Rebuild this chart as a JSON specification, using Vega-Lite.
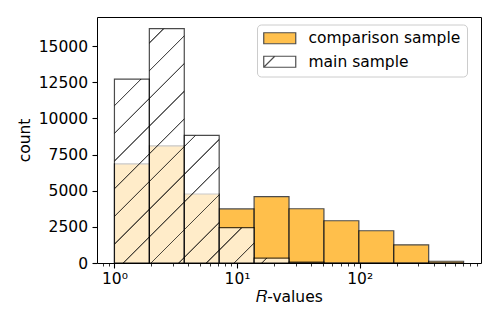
{
  "$schema": "https://vega.github.io/schema/vega-lite/v6.json",
  "autosize": {"type": "none"},
  "width": 384,
  "height": 246,
  "padding": {"left": 97, "top": 17, "right": 17, "bottom": 69},
  "background": "white",
  "config": {
    "view": {"stroke": "black", "strokeWidth": 1},
    "font": "DejaVu Sans",
    "axis": {"labelFont": "DejaVu Sans", "titleFont": "DejaVu Sans", "labelColor": "black", "titleColor": "black", "tickColor": "black", "grid": false, "domain": false, "labelFontSize": 15.5, "titleFontSize": 15.5, "titleFontWeight": "normal"},
    "legend": {"labelFont": "DejaVu Sans", "labelColor": "black"}
  },
  "datasets": {
    "bins": [
      {"bin": 1, "lo": 1.0, "hi": 1.926, "main": 12720, "comp": 6850},
      {"bin": 2, "lo": 1.926, "hi": 3.711, "main": 16200, "comp": 8100},
      {"bin": 3, "lo": 3.711, "hi": 7.148, "main": 8820, "comp": 4770},
      {"bin": 4, "lo": 7.148, "hi": 13.77, "main": 2440, "comp": 3740},
      {"bin": 5, "lo": 13.77, "hi": 26.52, "main": 340, "comp": 4590},
      {"bin": 6, "lo": 26.52, "hi": 51.09, "main": 60, "comp": 3750},
      {"bin": 7, "lo": 51.09, "hi": 98.4, "main": 0, "comp": 2920},
      {"bin": 8, "lo": 98.4, "hi": 189.6, "main": 0, "comp": 2230},
      {"bin": 9, "lo": 189.6, "hi": 365.2, "main": 0, "comp": 1260},
      {"bin": 10, "lo": 365.2, "hi": 703.4, "main": 0, "comp": 120}
    ],
    "samples": [
      {"sample": "comparison sample"},
      {"sample": "main sample"}
    ]
  },
  "layer": [
    {
      "data": {"name": "bins"},
      "mark": {"type": "rect", "fill": "#FFA500", "stroke": "black", "strokeWidth": 1.2, "opacity": 0.7},
      "encoding": {
        "x": {"field": "lo", "type": "quantitative",
          "scale": {"type": "log", "domain": [0.7208, 975.4], "nice": false, "zero": false},
          "axis": {
            "title": "𝑅-values",
            "values": [0.8, 0.9, 1, 2, 3, 4, 5, 6, 7, 8, 9, 10, 20, 30, 40, 50, 60, 70, 80, 90, 100, 200, 300, 400, 500, 600, 700, 800, 900],
            "labelExpr": "datum.value == 1 ? '10⁰' : datum.value == 10 ? '10¹' : datum.value == 100 ? '10²' : ''",
            "labelOverlap": false,
            "labelFlush": false,
            "labelPadding": 3,
            "titlePadding": 3,
            "tickSize": {"condition": {"test": "datum.value == 1 || datum.value == 10 || datum.value == 100", "value": 5}, "value": 3},
            "tickWidth": {"condition": {"test": "datum.value == 1 || datum.value == 10 || datum.value == 100", "value": 1.1}, "value": 0.8}
          }
        },
        "x2": {"field": "hi"},
        "y": {"field": "comp", "type": "quantitative",
          "scale": {"domain": [0, 17010], "nice": false},
          "axis": {"title": "count", "values": [0, 2500, 5000, 7500, 10000, 12500, 15000], "format": "d", "tickSize": 5, "tickWidth": 1.1, "labelPadding": 4.5, "titlePadding": 6}
        },
        "y2": {"datum": 0}
      }
    },
    {
      "data": {"name": "bins"},
      "mark": {"type": "rect", "fill": "white", "stroke": "black", "strokeWidth": 1.2, "opacity": 0.7},
      "encoding": {
        "x": {"field": "lo", "type": "quantitative"},
        "x2": {"field": "hi"},
        "y": {"field": "main", "type": "quantitative"},
        "y2": {"datum": 0}
      }
    },
    {
      "data": {"name": "bins"},
      "transform": [{"filter": "datum.bin == 1"}],
      "mark": {"type": "rect", "strokeWidth": 0, "fill": {"gradient": "linear", "x1": 0, "y1": 0, "x2": 0.2179, "y2": 1.1484, "stops": [
        {"offset": 0, "color": "rgba(0,0,0,0)"},
        {"offset": 0.1170, "color": "rgba(0,0,0,0)"}, {"offset": 0.1198, "color": "rgba(0,0,0,0.7)"}, {"offset": 0.1234, "color": "rgba(0,0,0,0.7)"}, {"offset": 0.1262, "color": "rgba(0,0,0,0)"},
        {"offset": 0.2435, "color": "rgba(0,0,0,0)"}, {"offset": 0.2463, "color": "rgba(0,0,0,0.7)"}, {"offset": 0.2499, "color": "rgba(0,0,0,0.7)"}, {"offset": 0.2527, "color": "rgba(0,0,0,0)"},
        {"offset": 0.3701, "color": "rgba(0,0,0,0)"}, {"offset": 0.3729, "color": "rgba(0,0,0,0.7)"}, {"offset": 0.3765, "color": "rgba(0,0,0,0.7)"}, {"offset": 0.3793, "color": "rgba(0,0,0,0)"},
        {"offset": 0.4967, "color": "rgba(0,0,0,0)"}, {"offset": 0.4995, "color": "rgba(0,0,0,0.7)"}, {"offset": 0.5031, "color": "rgba(0,0,0,0.7)"}, {"offset": 0.5059, "color": "rgba(0,0,0,0)"},
        {"offset": 0.6232, "color": "rgba(0,0,0,0)"}, {"offset": 0.6260, "color": "rgba(0,0,0,0.7)"}, {"offset": 0.6296, "color": "rgba(0,0,0,0.7)"}, {"offset": 0.6324, "color": "rgba(0,0,0,0)"},
        {"offset": 0.7498, "color": "rgba(0,0,0,0)"}, {"offset": 0.7526, "color": "rgba(0,0,0,0.7)"}, {"offset": 0.7562, "color": "rgba(0,0,0,0.7)"}, {"offset": 0.7590, "color": "rgba(0,0,0,0)"},
        {"offset": 0.8763, "color": "rgba(0,0,0,0)"}, {"offset": 0.8791, "color": "rgba(0,0,0,0.7)"}, {"offset": 0.8827, "color": "rgba(0,0,0,0.7)"}, {"offset": 0.8855, "color": "rgba(0,0,0,0)"},
        {"offset": 1, "color": "rgba(0,0,0,0)"}
      ]}},
      "encoding": {
        "x": {"field": "lo", "type": "quantitative"},
        "x2": {"field": "hi"},
        "y": {"field": "main", "type": "quantitative"},
        "y2": {"datum": 0}
      }
    },
    {
      "data": {"name": "bins"},
      "transform": [{"filter": "datum.bin == 2"}],
      "mark": {"type": "rect", "strokeWidth": 0, "fill": {"gradient": "linear", "x1": 0, "y1": 0, "x2": 0.1675, "y2": 1.1241, "stops": [
        {"offset": 0, "color": "rgba(0,0,0,0)"},
        {"offset": 0.0495, "color": "rgba(0,0,0,0)"}, {"offset": 0.0517, "color": "rgba(0,0,0,0.7)"}, {"offset": 0.0547, "color": "rgba(0,0,0,0.7)"}, {"offset": 0.0569, "color": "rgba(0,0,0,0)"},
        {"offset": 0.1524, "color": "rgba(0,0,0,0)"}, {"offset": 0.1546, "color": "rgba(0,0,0,0.7)"}, {"offset": 0.1576, "color": "rgba(0,0,0,0.7)"}, {"offset": 0.1598, "color": "rgba(0,0,0,0)"},
        {"offset": 0.2553, "color": "rgba(0,0,0,0)"}, {"offset": 0.2575, "color": "rgba(0,0,0,0.7)"}, {"offset": 0.2605, "color": "rgba(0,0,0,0.7)"}, {"offset": 0.2627, "color": "rgba(0,0,0,0)"},
        {"offset": 0.3582, "color": "rgba(0,0,0,0)"}, {"offset": 0.3604, "color": "rgba(0,0,0,0.7)"}, {"offset": 0.3634, "color": "rgba(0,0,0,0.7)"}, {"offset": 0.3656, "color": "rgba(0,0,0,0)"},
        {"offset": 0.4611, "color": "rgba(0,0,0,0)"}, {"offset": 0.4633, "color": "rgba(0,0,0,0.7)"}, {"offset": 0.4663, "color": "rgba(0,0,0,0.7)"}, {"offset": 0.4685, "color": "rgba(0,0,0,0)"},
        {"offset": 0.5640, "color": "rgba(0,0,0,0)"}, {"offset": 0.5662, "color": "rgba(0,0,0,0.7)"}, {"offset": 0.5692, "color": "rgba(0,0,0,0.7)"}, {"offset": 0.5714, "color": "rgba(0,0,0,0)"},
        {"offset": 0.6669, "color": "rgba(0,0,0,0)"}, {"offset": 0.6691, "color": "rgba(0,0,0,0.7)"}, {"offset": 0.6721, "color": "rgba(0,0,0,0.7)"}, {"offset": 0.6743, "color": "rgba(0,0,0,0)"},
        {"offset": 0.7698, "color": "rgba(0,0,0,0)"}, {"offset": 0.7720, "color": "rgba(0,0,0,0.7)"}, {"offset": 0.7750, "color": "rgba(0,0,0,0.7)"}, {"offset": 0.7772, "color": "rgba(0,0,0,0)"},
        {"offset": 0.8727, "color": "rgba(0,0,0,0)"}, {"offset": 0.8749, "color": "rgba(0,0,0,0.7)"}, {"offset": 0.8779, "color": "rgba(0,0,0,0.7)"}, {"offset": 0.8801, "color": "rgba(0,0,0,0)"},
        {"offset": 0.9756, "color": "rgba(0,0,0,0)"}, {"offset": 0.9778, "color": "rgba(0,0,0,0.7)"}, {"offset": 0.9808, "color": "rgba(0,0,0,0.7)"}, {"offset": 0.9830, "color": "rgba(0,0,0,0)"},
        {"offset": 1, "color": "rgba(0,0,0,0)"}
      ]}},
      "encoding": {
        "x": {"field": "lo", "type": "quantitative"},
        "x2": {"field": "hi"},
        "y": {"field": "main", "type": "quantitative"},
        "y2": {"datum": 0}
      }
    },
    {
      "data": {"name": "bins"},
      "transform": [{"filter": "datum.bin == 3"}],
      "mark": {"type": "rect", "strokeWidth": 0, "fill": {"gradient": "linear", "x1": 0, "y1": 0, "x2": 0.3243, "y2": 1.1849, "stops": [
        {"offset": 0, "color": "rgba(0,0,0,0)"},
        {"offset": 0.0626, "color": "rgba(0,0,0,0)"}, {"offset": 0.0663, "color": "rgba(0,0,0,0.7)"}, {"offset": 0.0713, "color": "rgba(0,0,0,0.7)"}, {"offset": 0.0750, "color": "rgba(0,0,0,0)"},
        {"offset": 0.2331, "color": "rgba(0,0,0,0)"}, {"offset": 0.2368, "color": "rgba(0,0,0,0.7)"}, {"offset": 0.2418, "color": "rgba(0,0,0,0.7)"}, {"offset": 0.2455, "color": "rgba(0,0,0,0)"},
        {"offset": 0.4036, "color": "rgba(0,0,0,0)"}, {"offset": 0.4073, "color": "rgba(0,0,0,0.7)"}, {"offset": 0.4123, "color": "rgba(0,0,0,0.7)"}, {"offset": 0.4160, "color": "rgba(0,0,0,0)"},
        {"offset": 0.5741, "color": "rgba(0,0,0,0)"}, {"offset": 0.5778, "color": "rgba(0,0,0,0.7)"}, {"offset": 0.5828, "color": "rgba(0,0,0,0.7)"}, {"offset": 0.5865, "color": "rgba(0,0,0,0)"},
        {"offset": 0.7446, "color": "rgba(0,0,0,0)"}, {"offset": 0.7483, "color": "rgba(0,0,0,0.7)"}, {"offset": 0.7533, "color": "rgba(0,0,0,0.7)"}, {"offset": 0.7570, "color": "rgba(0,0,0,0)"},
        {"offset": 0.9151, "color": "rgba(0,0,0,0)"}, {"offset": 0.9188, "color": "rgba(0,0,0,0.7)"}, {"offset": 0.9238, "color": "rgba(0,0,0,0.7)"}, {"offset": 0.9275, "color": "rgba(0,0,0,0)"},
        {"offset": 1, "color": "rgba(0,0,0,0)"}
      ]}},
      "encoding": {
        "x": {"field": "lo", "type": "quantitative"},
        "x2": {"field": "hi"},
        "y": {"field": "main", "type": "quantitative"},
        "y2": {"datum": 0}
      }
    },
    {
      "data": {"name": "bins"},
      "transform": [{"filter": "datum.bin == 4"}],
      "mark": {"type": "rect", "strokeWidth": 0, "fill": {"gradient": "linear", "x1": 0, "y1": 0, "x2": 0.9946, "y2": 1.0054, "stops": [
        {"offset": 0, "color": "rgba(0,0,0,0)"},
        {"offset": 0.3064, "color": "rgba(0,0,0,0)"}, {"offset": 0.3150, "color": "rgba(0,0,0,0.7)"}, {"offset": 0.3264, "color": "rgba(0,0,0,0.7)"}, {"offset": 0.3350, "color": "rgba(0,0,0,0)"},
        {"offset": 0.7010, "color": "rgba(0,0,0,0)"}, {"offset": 0.7095, "color": "rgba(0,0,0,0.7)"}, {"offset": 0.7209, "color": "rgba(0,0,0,0.7)"}, {"offset": 0.7295, "color": "rgba(0,0,0,0)"},
        {"offset": 1, "color": "rgba(0,0,0,0)"}
      ]}},
      "encoding": {
        "x": {"field": "lo", "type": "quantitative"},
        "x2": {"field": "hi"},
        "y": {"field": "main", "type": "quantitative"},
        "y2": {"datum": 0}
      }
    },
    {
      "data": {"name": "bins"},
      "transform": [{"filter": "datum.bin == 5"}],
      "mark": {"type": "rect", "strokeWidth": 0, "fill": {"gradient": "linear", "x1": 0, "y1": 0, "x2": 1.1188, "y2": 0.1577, "stops": [
        {"offset": 0, "color": "rgba(0,0,0,0)"},
        {"offset": 0.2920, "color": "rgba(0,0,0,0)"}, {"offset": 0.3071, "color": "rgba(0,0,0,0.7)"}, {"offset": 0.3271, "color": "rgba(0,0,0,0.7)"}, {"offset": 0.3422, "color": "rgba(0,0,0,0)"},
        {"offset": 1, "color": "rgba(0,0,0,0)"}
      ]}},
      "encoding": {
        "x": {"field": "lo", "type": "quantitative"},
        "x2": {"field": "hi"},
        "y": {"field": "main", "type": "quantitative"},
        "y2": {"datum": 0}
      }
    },
    {
      "data": {"name": "samples"},
      "mark": {"type": "point", "filled": true, "opacity": 0},
      "encoding": {
        "fill": {"field": "sample", "type": "nominal",
          "scale": {"domain": ["comparison sample", "main sample"], "range": ["#FFC04D", "#FFFFFF"]},
          "legend": {"title": null, "orient": "none", "legendX": 160, "legendY": 7.5, "padding": 6, "rowPadding": 5.5, "symbolSize": 121, "symbolOffset": 9, "labelOffset": 21, "labelFontSize": 15.5, "symbolOpacity": 1, "symbolStrokeColor": "#4d4d4d", "symbolStrokeWidth": 1.2, "fillColor": "rgba(255,255,255,0.8)", "strokeColor": "#cccccc", "cornerRadius": 4,
            "encode": {"symbols": {"update": {"stroke": {"value": "#4d4d4d"}, "strokeWidth": {"value": 1.2}, "opacity": {"value": 1}}}}}
        },
        "shape": {"field": "sample", "type": "nominal",
          "scale": {"domain": ["comparison sample", "main sample"], "range": ["M-2.91,-1H2.91V1H-2.91Z", "M-2.91,-1H2.91V1H-2.91ZM-2.91,1L-0.91,-1"]},
          "legend": {"title": null, "orient": "none", "legendX": 160, "legendY": 7.5, "padding": 6, "rowPadding": 5.5, "symbolSize": 121, "symbolOffset": 9, "labelOffset": 21, "labelFontSize": 15.5, "symbolOpacity": 1, "symbolStrokeColor": "#4d4d4d", "symbolStrokeWidth": 1.2, "fillColor": "rgba(255,255,255,0.8)", "strokeColor": "#cccccc", "cornerRadius": 4,
            "encode": {"symbols": {"update": {"stroke": {"value": "#4d4d4d"}, "strokeWidth": {"value": 1.2}, "opacity": {"value": 1}}}}}
        }
      }
    }
  ]
}
